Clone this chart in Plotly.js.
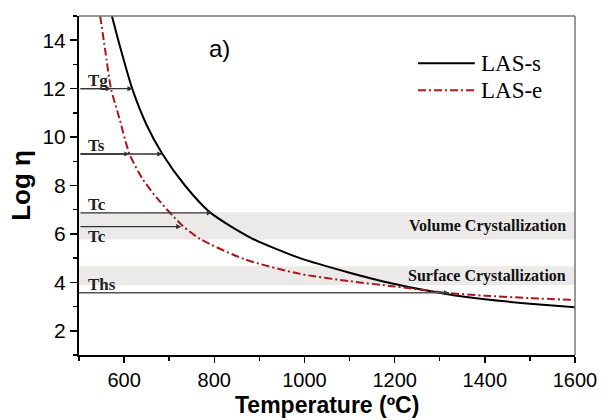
<!DOCTYPE html>
<html><head><meta charset="utf-8">
<script src="https://cdn.plot.ly/plotly-3.0.1.min.js"></script>
<style>html,body{margin:0;padding:0;background:#fff}#chart{width:608px;height:420px}</style>
</head><body><div id="chart"></div>
<script>
// LAS-s (solid black)
const tempS   = [573, 590, 618, 650, 685, 735, 790, 880, 990, 1100, 1200, 1315, 1400, 1500, 1600];
const logEtaS = [15.0, 13.8, 12.0, 10.5, 9.3, 8.0, 6.9, 5.85, 5.0, 4.4, 3.93, 3.52, 3.3, 3.12, 2.97];
// LAS-e (red dash-dot)
const tempE   = [547, 558, 571, 590, 612, 640, 672, 729, 768, 868, 990, 1100, 1200, 1320, 1400, 1500, 1600];
const logEtaE = [15.0, 13.6, 12.0, 10.75, 9.3, 8.3, 7.5, 6.35, 5.8, 4.95, 4.35, 4.05, 3.83, 3.56, 3.45, 3.35, 3.27];
const seriesNames = ['LAS-s', 'LAS-e'];

// characteristic temperatures: level (log eta) and curve temperature reached by the arrow
const arrowLevels = [12.0, 12.0, 9.3, 9.3, 6.87, 6.3];
const arrowTemps  = [571, 619, 612, 685, 795, 727];
const levelLabels = ['Tg', 'Ts', 'Tc', 'Tc', 'Ths'];
const labelLevels = [12.0, 9.3, 6.87, 6.3, 3.57];
const thsLevel = 3.57;
const thsTemp = 1320;

// crystallization bands (log eta ranges)
const bandNames = ['Volume Crystallization', 'Surface Crystallization'];
const bandLows  = [5.77, 3.89];
const bandHighs = [6.9, 4.67];

const xRange = [500, 1600];
const yRange = [1, 15];

const sans = 'Liberation Sans, Arial, sans-serif';
const serif = 'Liberation Serif, Times New Roman, serif';

const traces = [
  {x: tempS, y: logEtaS, name: seriesNames[0], mode: 'lines', type: 'scatter',
   line: {color: '#000', width: 2, shape: 'spline', smoothing: 0.7}, showlegend: false},
  {x: tempE, y: logEtaE, name: seriesNames[1], mode: 'lines', type: 'scatter',
   line: {color: '#a8181a', width: 2, dash: '8px,3px,2px,3px', shape: 'spline', smoothing: 0.7}, showlegend: false}
];

const shapes = [];
const annotations = [];

bandNames.forEach((n, i) => {
  shapes.push({type: 'rect', xref: 'x', yref: 'y', x0: xRange[0], x1: xRange[1],
    y0: bandLows[i], y1: bandHighs[i], fillcolor: '#ece9e9', line: {width: 0}, layer: 'below'});
  annotations.push({xref: 'paper', yref: 'y', x: 0.985, y: (bandLows[i] + bandHighs[i]) / 2,
    text: n, showarrow: false, xanchor: 'right', yanchor: 'middle',
    font: {family: serif, size: 16, color: '#111', weight: 'bold'}});
});

// Ths horizontal line
shapes.push({type: 'line', xref: 'x', yref: 'y', x0: xRange[0], x1: thsTemp, y0: thsLevel, y1: thsLevel,
  line: {color: '#555', width: 1.3}});
annotations.push({xref: 'x', yref: 'y', axref: 'x', ayref: 'y', x: thsTemp, y: thsLevel, ax: thsTemp - 20, ay: thsLevel,
  text: '', showarrow: true, arrowhead: 2, arrowsize: 0.8, arrowwidth: 1.2, arrowcolor: '#333'});

arrowLevels.forEach((lv, i) => {
  annotations.push({xref: 'x', yref: 'y', axref: 'x', ayref: 'y', x: arrowTemps[i], y: lv, ax: xRange[0], ay: lv,
    text: '', showarrow: true, arrowhead: 2, arrowsize: 0.8, arrowwidth: 1.3, arrowcolor: '#333', standoff: 0});
});

levelLabels.forEach((t, i) => {
  const below = (i === 3);
  annotations.push({xref: 'paper', yref: 'y', x: 0.014, y: labelLevels[i], text: t, showarrow: false,
    xanchor: 'left', yanchor: below ? 'top' : 'bottom', yshift: below ? 2 : -3,
    font: {family: serif, size: 17, color: '#222', weight: 'bold'}});
});

// panel label
annotations.push({xref: 'x', yref: 'y', x: 812, y: 13.67, text: 'a)', showarrow: false,
  font: {family: sans, size: 24, color: '#000'}});

// custom legend
const legY = [0.8605, 0.781];
const legCol = ['#000', '#a8181a'];
const legDash = ['solid', '8px,3px,2px,3px'];
seriesNames.forEach((n, i) => {
  shapes.push({type: 'line', xref: 'paper', yref: 'paper', x0: 0.6835, x1: 0.798, y0: legY[i], y1: legY[i],
    line: {color: legCol[i], width: 2, dash: legDash[i]}});
  annotations.push({xref: 'paper', yref: 'paper', x: 0.806, y: legY[i], text: n, showarrow: false,
    xanchor: 'left', yanchor: 'middle', font: {family: serif, size: 23, color: '#000'}});
});

// gray top/right frame
shapes.push({type: 'line', xref: 'paper', yref: 'paper', x0: 0, x1: 1, y0: 1, y1: 1, line: {color: '#777', width: 1.5}});
shapes.push({type: 'line', xref: 'paper', yref: 'paper', x0: 1, x1: 1, y0: 0, y1: 1, line: {color: '#777', width: 1.5}});

// x-axis title as annotation for precise placement
annotations.push({xref: 'paper', yref: 'paper', x: 0.5, y: -0.107, yanchor: 'top', text: 'Temperature (ºC)',
  showarrow: false, borderpad: 0, font: {family: sans, size: 23, color: '#000', weight: 'bold'}});

const layout = {
  width: 608, height: 420,
  margin: {l: 79, r: 33, t: 16, b: 65},
  paper_bgcolor: '#fff', plot_bgcolor: '#fff',
  showlegend: false,
  xaxis: {range: xRange, dtick: 200, tick0: 0, ticks: 'outside', ticklen: 6, tickwidth: 1.5, tickcolor: '#000',
    minor: {dtick: 100, tick0: 0, ticks: 'outside', ticklen: 4, tickwidth: 1.5, tickcolor: '#000'},
    showline: true, linecolor: '#000', linewidth: 2, showgrid: false, zeroline: false,
    tickfont: {family: sans, size: 20, color: '#000'}},
  yaxis: {range: yRange, dtick: 2, tick0: 0, ticks: 'outside', ticklen: 7, tickwidth: 1.5, tickcolor: '#000',
    minor: {dtick: 1, tick0: 0, ticks: 'outside', ticklen: 4, tickwidth: 1.5, tickcolor: '#000'},
    showline: true, linecolor: '#000', linewidth: 2, showgrid: false, zeroline: false,
    tickfont: {family: sans, size: 21, color: '#000'},
    title: {text: 'Log η', font: {family: sans, size: 26, color: '#000', weight: 'bold'}, standoff: 4}},
  shapes: shapes,
  annotations: annotations
};

Plotly.newPlot('chart', traces, layout, {displayModeBar: false, staticPlot: true});
</script>
</body></html>
